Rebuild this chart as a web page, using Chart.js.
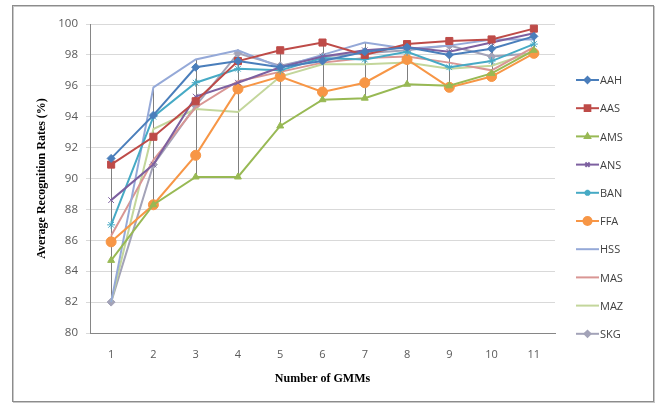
<!DOCTYPE html>
<html>
<head>
<meta charset="utf-8">
<script src="https://cdn.jsdelivr.net/npm/chart.js@4/dist/chart.umd.min.js"></script>
<style>
  html, body { margin: 0; padding: 0; background: #fff; }
  #wrap { width: 660px; height: 407px; position: relative; }
</style>
</head>
<body>
<div id="wrap"><canvas id="lineChart" width="660" height="407"></canvas></div>
<script>
// number of GMMs on the x axis
const gmmLabels = ['1', '2', '3', '4', '5', '6', '7', '8', '9', '10', '11'];

// recognition rates (%) per speaker
const aah = [91.3, 94.1, 97.2, 97.6, 97.2, 97.6, 98.2, 98.5, 98.0, 98.4, 99.2];
const aas = [90.9, 92.7, 95.0, 97.6, 98.3, 98.8, 98.0, 98.7, 98.9, 99.0, 99.7];
const ams = [84.7, 88.3, 90.1, 90.1, 93.4, 95.1, 95.2, 96.1, 96.0, 96.8, 98.3];
const ans = [88.6, 90.9, 95.3, 96.2, 97.2, 97.9, 98.3, 98.5, 98.2, 98.8, 99.4];
const ban = [87.0, 94.0, 96.2, 97.1, 97.0, 97.8, 97.7, 98.2, 97.2, 97.6, 98.7];
const ffa = [85.9, 88.3, 91.5, 95.8, 96.6, 95.6, 96.2, 97.7, 95.9, 96.6, 98.1];
const hss = [82.0, 95.9, 97.7, 98.3, 97.2, 98.0, 98.8, 98.4, 98.6, 99.0, 99.0];
const mas = [86.3, 91.2, 94.6, 96.3, 96.9, 97.5, 97.8, 97.9, 97.5, 97.0, 98.5];
const maz = [82.0, 93.2, 94.5, 94.3, 96.6, 97.4, 97.4, 97.5, 97.1, 97.3, 98.2];
const skg = [82.0, 90.9, 94.7, 98.1, 97.3, 97.9, 98.1, 98.3, 98.6, 97.9, 98.1];

const yTicks = [80, 82, 84, 86, 88, 90, 92, 94, 96, 98, 100];

const series = [
    { label: 'AAH', data: aah, color: '#4A7EBB', marker: 'rectRot', r: 4 },
    { label: 'AAS', data: aas, color: '#BE4B48', marker: 'rect', r: 5 },
    { label: 'AMS', data: ams, color: '#98B954', marker: 'triangle', r: 4 },
    { label: 'ANS', data: ans, color: '#7D60A0', marker: 'crossRot', r: 4 },
    { label: 'BAN', data: ban, color: '#46AAC5', marker: 'star', r: 4 },
    { label: 'FFA', data: ffa, color: '#F79646', marker: 'circle', r: 5 },
    { label: 'HSS', data: hss, color: '#95A9D8', marker: false, r: 0 },
    { label: 'MAS', data: mas, color: '#D99694', marker: false, r: 0 },
    { label: 'MAZ', data: maz, color: '#C3D69B', marker: false, r: 0 },
    { label: 'SKG', data: skg, color: '#A3A3B8', marker: 'rectRot', r: 4 }
];

// outer frame like the spreadsheet chart box
const framePlugin = {
    id: 'frame',
    beforeDraw(chart) {
        const ctx = chart.ctx;
        ctx.save();
        ctx.fillStyle = '#fff';
        ctx.fillRect(0, 0, chart.width, chart.height);
        ctx.strokeStyle = '#c8c8c8';
        ctx.lineWidth = 1;
        ctx.strokeRect(13.5, 6.5, 641, 396);
        ctx.strokeStyle = '#8c8c8c';
        ctx.strokeRect(12.5, 5.5, 641, 396);
        ctx.restore();
    }
};

// high-low lines between lowest and highest series at each x
const highLowPlugin = {
    id: 'highLow',
    beforeDatasetsDraw(chart) {
        const ctx = chart.ctx;
        const x = chart.scales.x, y = chart.scales.y;
        ctx.save();
        ctx.strokeStyle = '#7f7f7f';
        ctx.lineWidth = 1;
        gmmLabels.forEach((lab, i) => {
            const vals = series.map(s => s.data[i]);
            const px = Math.round(x.getPixelForValue(i)) + 0.5;
            ctx.beginPath();
            ctx.moveTo(px, y.getPixelForValue(Math.max(...vals)));
            ctx.lineTo(px, y.getPixelForValue(Math.min(...vals)));
            ctx.stroke();
        });
        ctx.restore();
    }
};

// legend on the right: short line with marker in the middle
const legendPlugin = {
    id: 'sideLegend',
    afterDraw(chart) {
        const ctx = chart.ctx;
        ctx.save();
        ctx.font = '11px "Open Sans", sans-serif';
        ctx.textBaseline = 'middle';
        series.forEach((s, i) => {
            const yy = 80 + i * 28.2;
            ctx.strokeStyle = s.color;
            ctx.lineWidth = 2;
            ctx.beginPath();
            ctx.moveTo(576, yy);
            ctx.lineTo(599, yy);
            ctx.stroke();
            if (s.marker) {
                Chart.helpers.drawPoint(ctx, {
                    pointStyle: s.marker, radius: s.r - 1, borderWidth: 1
                }, 587.5, yy);
                ctx.fillStyle = s.color;
                ctx.fill();
            }
            ctx.fillStyle = '#404040';
            ctx.fillText(s.label, 600, yy + 1);
        });
        ctx.restore();
    }
};

new Chart(document.getElementById('lineChart'), {
    type: 'line',
    data: {
        labels: gmmLabels,
        datasets: series.map(s => ({
            label: s.label,
            data: s.data,
            borderColor: s.color,
            backgroundColor: s.color,
            borderWidth: 2,
            pointStyle: s.marker,
            pointRadius: s.r,
            pointBorderWidth: 1,
            tension: 0
        }))
    },
    options: {
        responsive: false,
        animation: false,
        layout: { padding: { left: 22, right: 105, top: 24, bottom: 12 } },
        plugins: {
            legend: { display: false },
            tooltip: { enabled: false }
        },
        scales: {
            x: {
                offset: true,
                afterFit: scale => { scale.height = 62; },
                grid: { display: false, drawTicks: false },
                border: { color: '#868686' },
                ticks: {
                    padding: 15,
                    color: '#595959',
                    font: { family: '"Open Sans", sans-serif', size: 11 }
                },
                title: {
                    display: true,
                    text: 'Number of GMMs',
                    color: '#000',
                    padding: { top: 4, bottom: 9 },
                    font: { family: '"Liberation Serif", serif', size: 12, weight: 'bold' }
                }
            },
            y: {
                min: 80,
                max: 100,
                afterFit: scale => { scale.width = 68; },
                afterBuildTicks: scale => { scale.ticks = yTicks.map(v => ({ value: v })); },
                grid: { color: '#d9d9d9', tickLength: 4 },
                border: { color: '#868686' },
                ticks: {
                    padding: 8,
                    color: '#595959',
                    font: { family: '"Open Sans", sans-serif', size: 11.5 }
                },
                title: {
                    display: true,
                    text: 'Average Recognition Rates (%)',
                    color: '#000',
                    padding: { top: 13, bottom: 4 },
                    font: { family: '"Liberation Serif", serif', size: 12, weight: 'bold' }
                }
            }
        }
    },
    plugins: [framePlugin, highLowPlugin, legendPlugin]
});
</script>
</body>
</html>
